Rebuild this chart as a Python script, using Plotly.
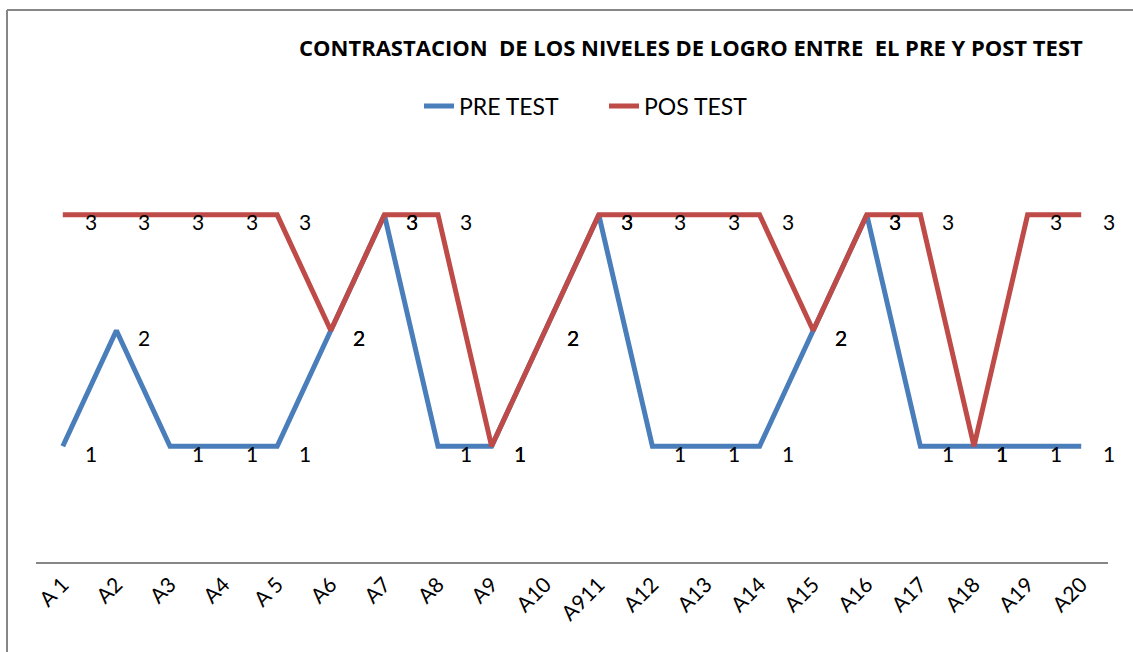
import plotly.graph_objects as go

categories = ["A 1", "A2", "A3", "A4", "A 5", "A6", "A7", "A8", "A9", "A10",
              "A911", "A12", "A13", "A14", "A15", "A16", "A17", "A18", "A19", "A20"]
pre_test = [1, 2, 1, 1, 1, 2, 3, 1, 1, 2, 3, 1, 1, 1, 2, 3, 1, 1, 1, 1]
pos_test = [3, 3, 3, 3, 3, 2, 3, 3, 1, 2, 3, 3, 3, 3, 2, 3, 3, 1, 3, 3]

BLUE = "#4A7EBB"
RED = "#BE4B48"
FONT = "Lato"

fig = go.Figure()
fig.add_trace(go.Scatter(x=categories, y=pre_test, mode="lines", name="PRE TEST",
                         line=dict(color=BLUE, width=5)))
fig.add_trace(go.Scatter(x=categories, y=pos_test, mode="lines", name="POS TEST",
                         line=dict(color=RED, width=5)))

L, R, T, B = 36, 25, 157, 90
W, H = 1133, 652
pw, ph = W - L - R, H - T - B

annotations = []
for series in (pre_test, pos_test):
    for c, v in zip(categories, series):
        annotations.append(dict(x=c, y=v, xref="x", yref="y", text=str(v),
                                showarrow=False, xshift=28, yshift=-7,
                                font=dict(family=FONT, size=21, color="black")))

annotations.append(dict(x=(691 - L) / pw, y=1 + (T - 47) / ph, xref="paper", yref="paper",
                        xanchor="center", yanchor="middle",
                        text="<b>CONTRASTACION  DE LOS NIVELES DE LOGRO ENTRE  EL PRE Y POST TEST</b>",
                        showarrow=False, font=dict(family="Open Sans", size=22, color="black")))

fig.update_layout(
    width=W, height=H,
    margin=dict(l=L, r=R, t=T, b=B),
    paper_bgcolor="white", plot_bgcolor="white",
    showlegend=True,
    legend=dict(orientation="h", x=(604 - L) / pw, xanchor="center",
                y=1 + (T - 106) / ph, yanchor="middle",
                font=dict(family=FONT, size=23, color="black"),
                entrywidth=140, entrywidthmode="pixels",
                traceorder="normal"),
    annotations=annotations,
    xaxis=dict(type="category", range=[-0.5, 19.5], showgrid=False,
               showline=True, linecolor="#868686", linewidth=2,
               ticks="", tickangle=-45,
               tickfont=dict(family=FONT, size=21, color="black"),
               fixedrange=True),
    yaxis=dict(range=[0, 3.5], visible=False, showgrid=False, zeroline=False,
               fixedrange=True),
    shapes=[dict(type="line", xref="paper", yref="paper",
                 x0=(7 - L) / pw, x1=(7 - L) / pw, y0=1 + (T - 10) / ph, y1=-1,
                 line=dict(color="#868686", width=2)),
            dict(type="line", xref="paper", yref="paper",
                 x0=(7 - L) / pw, x1=1.2, y0=1 + (T - 10) / ph, y1=1 + (T - 10) / ph,
                 line=dict(color="#868686", width=2))],
)

fig.write_html("out.html", config={"displayModeBar": False},
               post_script="document.body.style.margin='0';")
